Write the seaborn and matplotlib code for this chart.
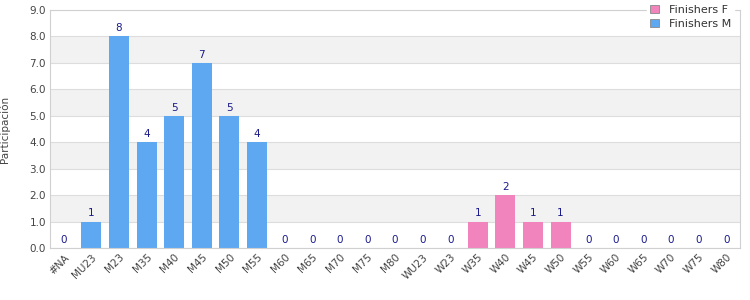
import matplotlib
matplotlib.use("Agg")
import matplotlib.pyplot as plt
import seaborn as sns
import pandas as pd

categories = ["#NA", "MU23", "M23", "M35", "M40", "M45", "M50", "M55", "M60", "M65",
              "M70", "M75", "M80", "WU23", "W23", "W35", "W40", "W45", "W50", "W55",
              "W60", "W65", "W70", "W75", "W80"]
finishers_f = [0, 0, 0, 0, 0, 0, 0, 0, 0, 0, 0, 0, 0, 0, 0, 1, 2, 1, 1, 0, 0, 0, 0, 0, 0]
finishers_m = [0, 1, 8, 4, 5, 7, 5, 4, 0, 0, 0, 0, 0, 0, 0, 0, 0, 0, 0, 0, 0, 0, 0, 0, 0]
y_ticks = [0, 1, 2, 3, 4, 5, 6, 7, 8, 9]

sns.set_style("white")
plt.rcParams['font.family'] = ['DejaVu Sans']

df = pd.DataFrame({
    "cat": categories * 2,
    "val": finishers_f + finishers_m,
    "serie": ["Finishers F"] * len(categories) + ["Finishers M"] * len(categories),
})

fig = plt.figure(figsize=(7.5, 3.0), dpi=100)
ax = fig.add_axes([50 / 750, 52 / 300, 690 / 750, 238 / 300])

for lo in [1, 3, 5, 7]:
    ax.axhspan(lo, lo + 1, color="#f2f2f2", zorder=0, lw=0)
for t in y_ticks:
    ax.axhline(t, color="#dddddd", lw=0.8, zorder=0.5)

sns.barplot(data=df, x="cat", y="val", hue="serie", dodge=False, order=categories,
            palette={"Finishers F": "#f183bd", "Finishers M": "#5ea8f2"},
            saturation=1, linewidth=0, width=0.72, ax=ax, zorder=2, legend=True)

for i, c in enumerate(categories):
    v = max(finishers_f[i], finishers_m[i])
    ax.text(i, v + 0.12, str(v), ha="center", va="bottom", fontsize=7.5,
            color="#1a1a8c", zorder=3)

ax.set_ylim(0, 9)
ax.set_xlim(-0.5, len(categories) - 0.5)
ax.set_yticks(y_ticks)
ax.set_yticklabels([f"{t:.1f}" for t in y_ticks], fontsize=7.5, color="#444444")
ax.set_xticks(range(len(categories)))
ax.set_xticklabels(categories, rotation=45, ha="right", rotation_mode="anchor",
                   fontsize=7.5, color="#444444")
ax.tick_params(axis="both", length=0, pad=3)
ax.set_xlabel("")
ax.set_ylabel("Participación", fontsize=7.5, color="#444444", labelpad=14)
for s in ax.spines.values():
    s.set_color("#d0d0d0")
    s.set_linewidth(0.8)

h, l = ax.get_legend_handles_labels()
for hh in h:
    hh.set_edgecolor("#888888")
    hh.set_linewidth(0.6)
leg = ax.legend(h, l, loc="upper right", bbox_to_anchor=(1.0, 1.06), frameon=True,
                fontsize=8, handlelength=0.8, handleheight=0.8, handletextpad=0.9,
                labelspacing=0.35, borderpad=0.3, fancybox=False)
leg.get_frame().set_edgecolor("white")
leg.get_frame().set_facecolor("white")
leg.get_frame().set_alpha(1)
for t in leg.get_texts():
    t.set_color("#333333")

fig.savefig("out.png", dpi=100)
